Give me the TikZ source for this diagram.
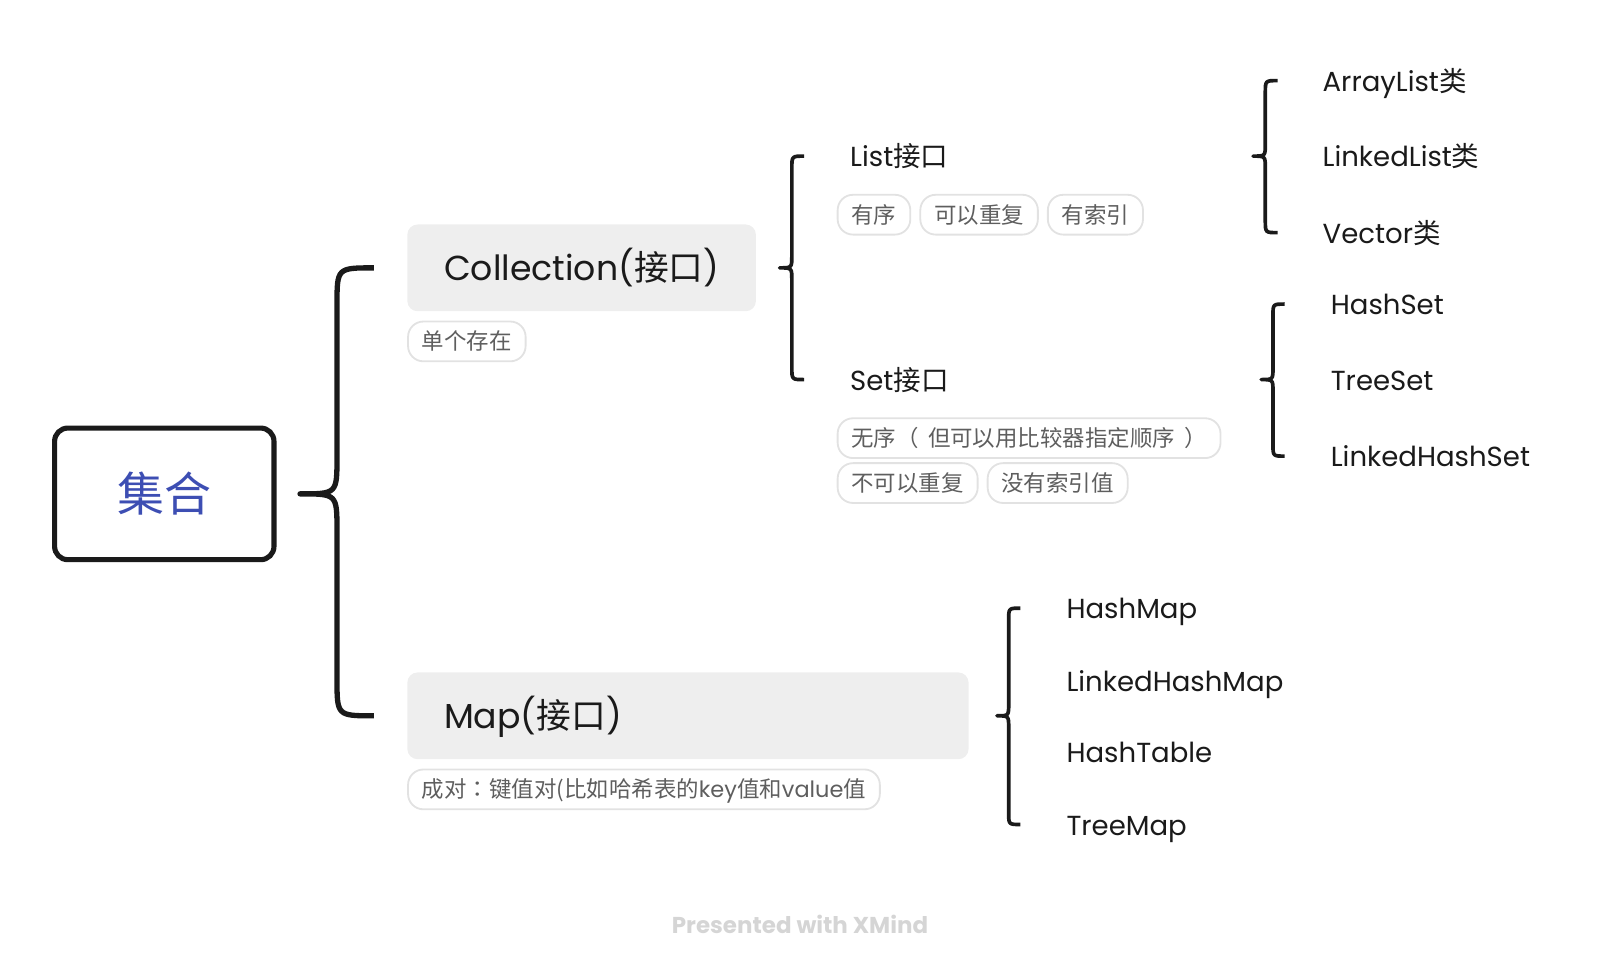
\documentclass[tikz,border=0pt]{standalone}
\usepackage{fontspec}
\setmainfont{Poppins}
\newfontfamily\cjk{Noto Sans CJK SC}
\newfontfamily\cjktc{Noto Sans CJK TC}
\usepackage{tikz}
\usetikzlibrary{calc,positioning}
\definecolor{boxgray}{HTML}{EEEEEE}
\definecolor{tagline}{HTML}{E2E2E2}
\definecolor{tagtext}{HTML}{5E5E5E}
\definecolor{inkblack}{HTML}{1A1A1A}
\definecolor{rootblue}{HTML}{3D4EB3}
\definecolor{footgray}{HTML}{D5D5D5}
\tikzset{root/.style={draw=inkblack, line width=5pt, rounded corners=13pt, minimum width=215pt, minimum height=129pt, text=rootblue, font=\cjk\fontsize{46}{50}\selectfont},
	topic/.style={fill=boxgray, rounded corners=10pt, minimum height=85pt, inner xsep=36pt, inner ysep=0pt, text=inkblack, text height=27pt, text depth=1.3pt, anchor=west, font=\fontsize{34}{40}\selectfont},
	sub/.style={anchor=west, inner sep=0pt, text=inkblack, text height=21.6pt, text depth=1pt, font=\fontsize{27}{32}\selectfont},
	tag/.style={draw=tagline, line width=1.8pt, rounded corners=15pt, minimum height=39pt, inner xsep=13.6pt, inner ysep=0pt, text=tagtext, text height=17.6pt, text depth=0.9pt, font=\cjk\fontsize{22}{26}\selectfont},
	brace/.style={draw=inkblack, line join=round}}
\newcommand{\curly}[4][3.6pt]{%
	\draw[brace, line width=#1] let \p1=(#2), \p2=(#3), \p3=(#4), \n1={(\x2-\x1)/2} in
	(\p2) .. controls (\x1+\n1,\y2) .. (\x1+\n1,\y2-\n1) -- (\x1+\n1,\y1+\n1) .. controls (\x1+\n1,\y1) .. (\p1)
	.. controls (\x1+\n1,\y1) .. (\x1+\n1,\y1-\n1) -- (\x1+\n1,\y3+\n1) .. controls (\x1+\n1,\y3) .. (\p3);}
\begin{document}
\begin{tikzpicture}[x=1pt, y=-1pt]
	\useasboundingbox (0,0) rectangle (1568,954.5);
	\node[root] (root) at (161,484) {集合};
	\node[topic, minimum width=338pt] (coll) at (399,262.5) {Collection({\cjk 接口})};
	\node[topic, text width=478pt, align=left] (map) at (399,701.5) {Map({\cjk 接口})};
	\node[tag, anchor=north west] (single) at ($(coll.south west)+(0,9)$) {单个存在};
	\node[tag, anchor=north west] (pair) at ($(map.south west)+(0,9)$) {\cjktc 成对：键值对(比如哈希表的{\rmfamily key}值和{\rmfamily value}值};
	
	\node[sub] (list) at (833,153) {List{\cjk 接口}};
	\node[sub] (set) at (833,372) {Set{\cjk 接口}};
	\node[tag, anchor=north west] (ordered) at ($(list.west)+(-13,37)$) {有序};
	\node[tag, right=8pt of ordered] (dup) {可以重复};
	\node[tag, right=8pt of dup] (index) {有索引};
	\node[tag, anchor=north west] (unordered) at ($(set.west)+(-13,37)$) {\cjktc 无序（\kern9pt 但可以用比较器指定顺序\kern9pt）};
	\node[tag, anchor=north west] (nodup) at ($(unordered.south west)+(0,3.2)$) {不可以重复};
	\node[tag, right=8pt of nodup] (noindex) {没有索引值};
	
	\node[sub] (arr) at (1296,79) {ArrayList{\cjk 类}};
	\node[sub] (lnk) at (1296,153) {LinkedList{\cjk 类}};
	\node[sub] (vec) at (1296,228) {Vector{\cjk 类}};
	\node[sub] (hs) at (1304,298) {HashSet};
	\node[sub] (ts) at (1304,372) {TreeSet};
	\node[sub] (lhs) at (1304,447) {LinkedHashSet};
	\node[sub] (hm) at (1045,596) {HashMap};
	\node[sub] (lhm) at (1045,667) {LinkedHashMap};
	\node[sub] (ht) at (1045,737) {HashTable};
	\node[sub] (tm) at (1045,808) {TreeMap};
	
	\curly[5.2pt]{$(root.east)+(23,0)$}{$(coll.west)+(-32.5,0)$}{$(map.west)+(-32.5,0)$}
	\curly{$(coll.east -| list.west)+(-69,0)$}{$(list.west)+(-45,0)$}{$(set.west)+(-45,0)$}
	\curly{$(list.east -| arr.west)+(-68,0)$}{$(arr.west)+(-44,0)$}{$(vec.west)+(-44,0)$}
	\curly{$(set.east -| hs.west)+(-68,0)$}{$(hs.west)+(-45,0)$}{$(lhs.west)+(-45,0)$}
	\curly{$(map.east -| hm.west)+(-68,0)$}{$(hm.west)+(-45,0)$}{$(tm.west)+(-45,0)$}
	
	\node[text=footgray, font=\bfseries\fontsize{22.5}{26}\selectfont] (foot) at (784,906) {Presented with XMind};
\end{tikzpicture}
\end{document}
